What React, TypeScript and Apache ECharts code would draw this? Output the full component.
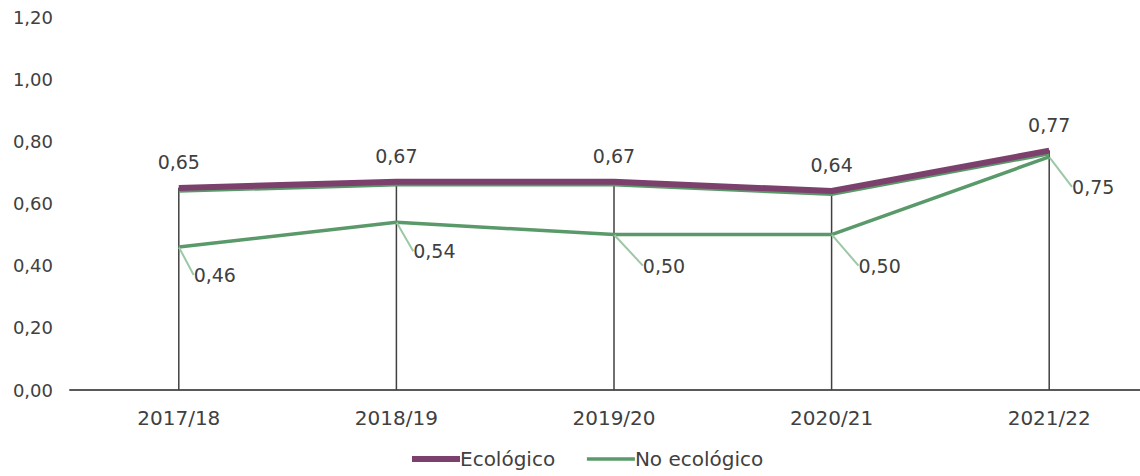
import React, { useEffect, useRef } from "react";
import * as echarts from "echarts";

const categories = ["2017/18", "2018/19", "2019/20", "2020/21", "2021/22"];
const ecologico = [0.65, 0.67, 0.67, 0.64, 0.77];
const noEcologico = [0.46, 0.54, 0.5, 0.5, 0.75];
const total = [0.64, 0.66, 0.66, 0.63, 0.76];
const yTicks = { min: 0, max: 1.2, interval: 0.2 };

const FONT = "'DejaVu Sans', 'Open Sans', sans-serif";
const TEXT = "#404040";
const PURPLE = "#7b416c";
const GREEN = "#5a9a6a";
const fmt = (v: number) => v.toFixed(2).replace(".", ",");

const noEcoLabelOffsets = [
  [36, 28],
  [38, 29],
  [50, 31],
  [48, 31],
  [44, 30],
];

export default function App() {
  const ref = useRef<HTMLDivElement>(null);
  useEffect(() => {
    if (!ref.current) return;
    const chart = echarts.init(ref.current, undefined, { renderer: "svg" });
    chart.setOption({
      animation: false,
      backgroundColor: "#ffffff",
      textStyle: { fontFamily: FONT, color: TEXT },
      grid: { left: 70, right: 0, top: 17, bottom: 86, containLabel: false },
      legend: {
        bottom: 2,
        left: 404,
        itemWidth: 48,
        itemHeight: 12,
        itemGap: 30,
        data: [
          { name: "Ecológico", lineStyle: { width: 6 } },
          { name: "No ecológico", lineStyle: { width: 3.5 } },
        ],
        itemStyle: { opacity: 0 },
        textStyle: { fontFamily: FONT, fontSize: 20, color: TEXT, padding: [0, 0, 0, -5] },
      },
      xAxis: {
        type: "category",
        data: categories,
        axisLine: { lineStyle: { color: "#595959", width: 2 } },
        axisTick: { show: false },
        axisLabel: { fontFamily: FONT, fontSize: 20, color: TEXT, margin: 18 },
      },
      yAxis: {
        type: "value",
        min: yTicks.min,
        max: yTicks.max,
        interval: yTicks.interval,
        axisLine: { show: false },
        axisTick: { show: false },
        splitLine: { show: false },
        axisLabel: { fontFamily: FONT, fontSize: 18, color: TEXT, margin: 17, formatter: (v: number) => fmt(v) },
      },
      series: [
        {
          name: "drop",
          type: "bar",
          data: ecologico,
          barWidth: 1.5,
          silent: true,
          itemStyle: { color: "#404040" },
          z: 1,
        },
        {
          name: "Total",
          type: "line",
          data: total,
          symbol: "none",
          lineStyle: { color: GREEN, width: 3.5 },
          z: 3,
        },
        {
          name: "Ecológico",
          type: "line",
          data: ecologico,
          symbol: "circle",
          symbolSize: 1,
          lineStyle: { color: PURPLE, width: 6 },
          itemStyle: { color: PURPLE },
          label: {
            show: true,
            position: "top",
            distance: 16,
            fontFamily: FONT,
            fontSize: 19,
            color: TEXT,
            formatter: (p: any) => fmt(p.value),
          },
          z: 4,
        },
        {
          name: "No ecológico",
          type: "line",
          data: noEcologico,
          symbol: "circle",
          symbolSize: 1,
          lineStyle: { color: GREEN, width: 3.5 },
          itemStyle: { color: GREEN },
          label: {
            show: true,
            position: "inside",
            fontFamily: FONT,
            fontSize: 19,
            color: TEXT,
            formatter: (p: any) => fmt(p.value),
          },
          labelLine: { show: true, lineStyle: { color: "#9cc8a6", width: 2 } },
          labelLayout: (params: any) => {
            const o = noEcoLabelOffsets[params.dataIndex] || [40, 28];
            return { dx: o[0], dy: o[1] };
          },
          z: 3,
        },
      ],
    });
    return () => chart.dispose();
  }, []);
  return (
    <div style={{ position: "fixed", left: 0, top: 0, width: 1140, height: 476, overflow: "hidden", background: "#fff" }}>
      <div ref={ref} style={{ width: 1158, height: 476 }} />
    </div>
  );
}
